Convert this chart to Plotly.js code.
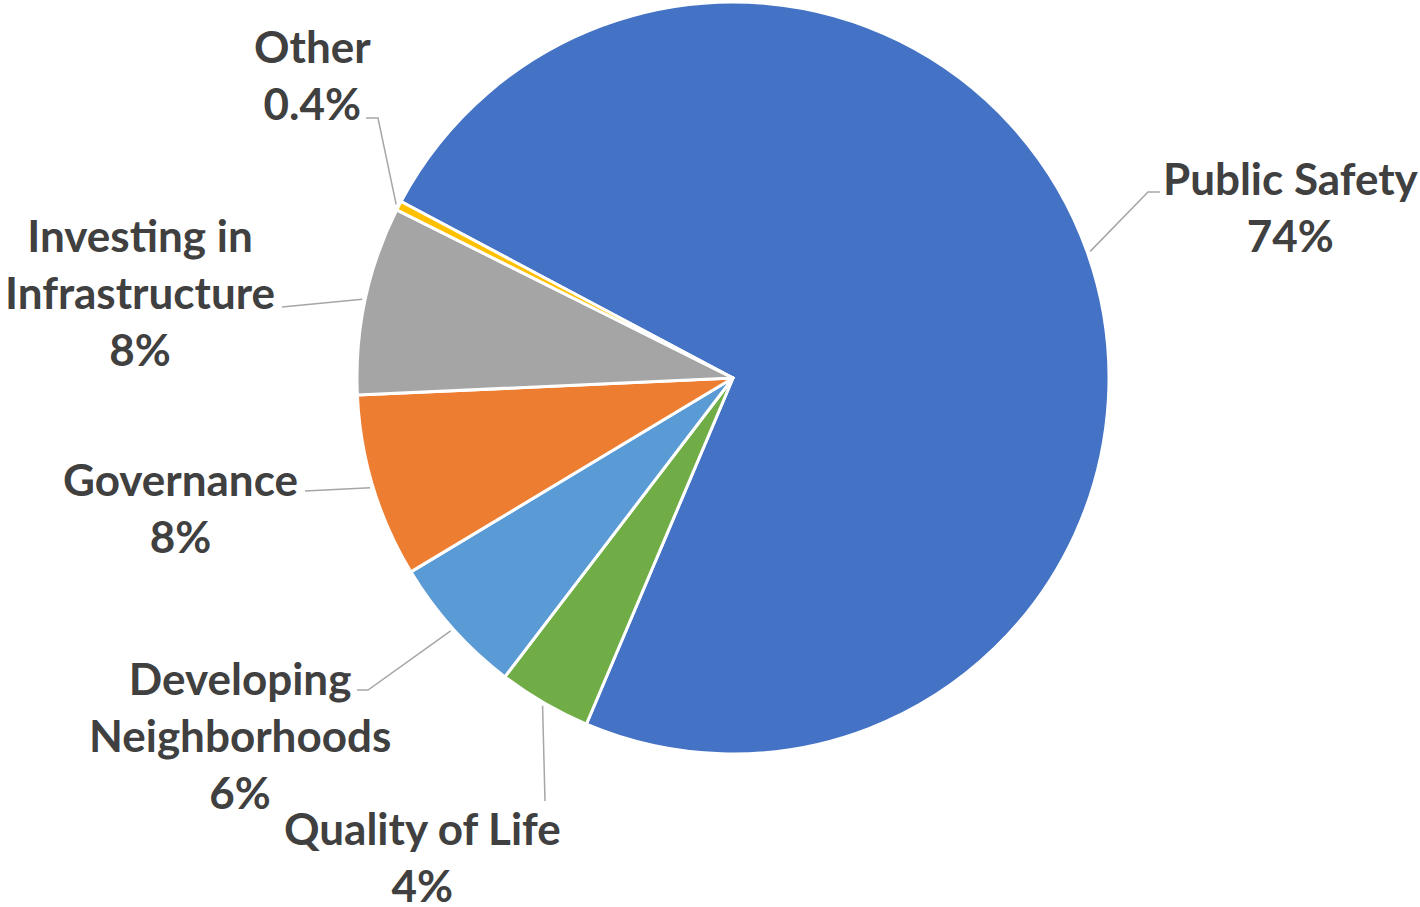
<!DOCTYPE html>
<html>
<head>
<meta charset="utf-8">
<script src="https://cdn.plot.ly/plotly-3.0.1.min.js"></script>
<style>html,body{margin:0;padding:0;background:#fff;}#chart{width:1420px;height:907px;}</style>
</head>
<body>
<div id="chart"></div>
<script>
// ---- data ----
const categories = ['Public Safety', 'Quality of Life', 'Developing Neighborhoods', 'Governance', 'Investing in Infrastructure', 'Other'];
const shares = [73.6, 4.0, 6.0, 7.9, 8.1, 0.4];
const percentLabels = ['74%', '4%', '6%', '8%', '8%', '0.4%'];
const displayNames = ['Public Safety', 'Quality of Life', 'Developing<br>Neighborhoods', 'Governance', 'Investing in<br>Infrastructure', 'Other'];

// ---- layout / style ----
const W = 1420, H = 907;
const colors = ['#4472C4', '#70AD47', '#5B9BD5', '#ED7D31', '#A5A5A5', '#FFC000'];
const rotation = -62;
const cx = 733, cy = 378, R = 376;
// label block centres (px) and leader elbow/end points (px)
const labelPos = [[1291, 206], [422, 856], [240, 735], [180, 507], [140, 292], [312, 74]];
const leaderElbow = [[1148, 192], [545, 801], [368, 690], [305, 491], [282, 307], [378, 118]];
const leaderEnd = [[1160, 192], [545, 801], [357, 690], [305, 491], [282, 307], [366, 118]];

const px = x => x / W;
const py = y => 1 - y / H;

const total = shares.reduce((a, b) => a + b, 0);
let cum = 0;
const shapes = [];
const annotations = [];
shares.forEach((v, i) => {
  const mid = rotation + (cum + v / 2) / total * 360;
  cum += v;
  const a = mid * Math.PI / 180;
  const sx = cx + (R + 3) * Math.sin(a);
  const sy = cy - (R + 3) * Math.cos(a);
  const path = `M ${px(sx)} ${py(sy)} L ${px(leaderElbow[i][0])} ${py(leaderElbow[i][1])} L ${px(leaderEnd[i][0])} ${py(leaderEnd[i][1])}`;
  shapes.push({type: 'path', xref: 'paper', yref: 'paper', path: path, line: {color: '#A6A6A6', width: 1.5}});
  annotations.push({
    xref: 'paper', yref: 'paper', x: px(labelPos[i][0]), y: py(labelPos[i][1]),
    xanchor: 'center', yanchor: 'middle', showarrow: false, align: 'center',
    text: displayNames[i] + '<br>' + percentLabels[i],
    font: {family: 'Lato, "Open Sans", sans-serif', size: 44, color: '#404040', weight: 700}
  });
});

const trace = {
  type: 'pie',
  labels: categories,
  values: shares,
  sort: false,
  direction: 'clockwise',
  rotation: rotation,
  textinfo: 'none',
  hoverinfo: 'label+percent',
  marker: {colors: colors, line: {color: '#FFFFFF', width: 3}},
  domain: {x: [(cx - R) / W, (cx + R) / W], y: [1 - (cy + R) / H, 1 - (cy - R) / H]},
  showlegend: false
};

Plotly.newPlot('chart', [trace], {
  width: W, height: H,
  margin: {l: 0, r: 0, t: 0, b: 0},
  paper_bgcolor: '#FFFFFF',
  showlegend: false,
  shapes: shapes,
  annotations: annotations
}, {displayModeBar: false, staticPlot: true});
</script>
</body>
</html>
